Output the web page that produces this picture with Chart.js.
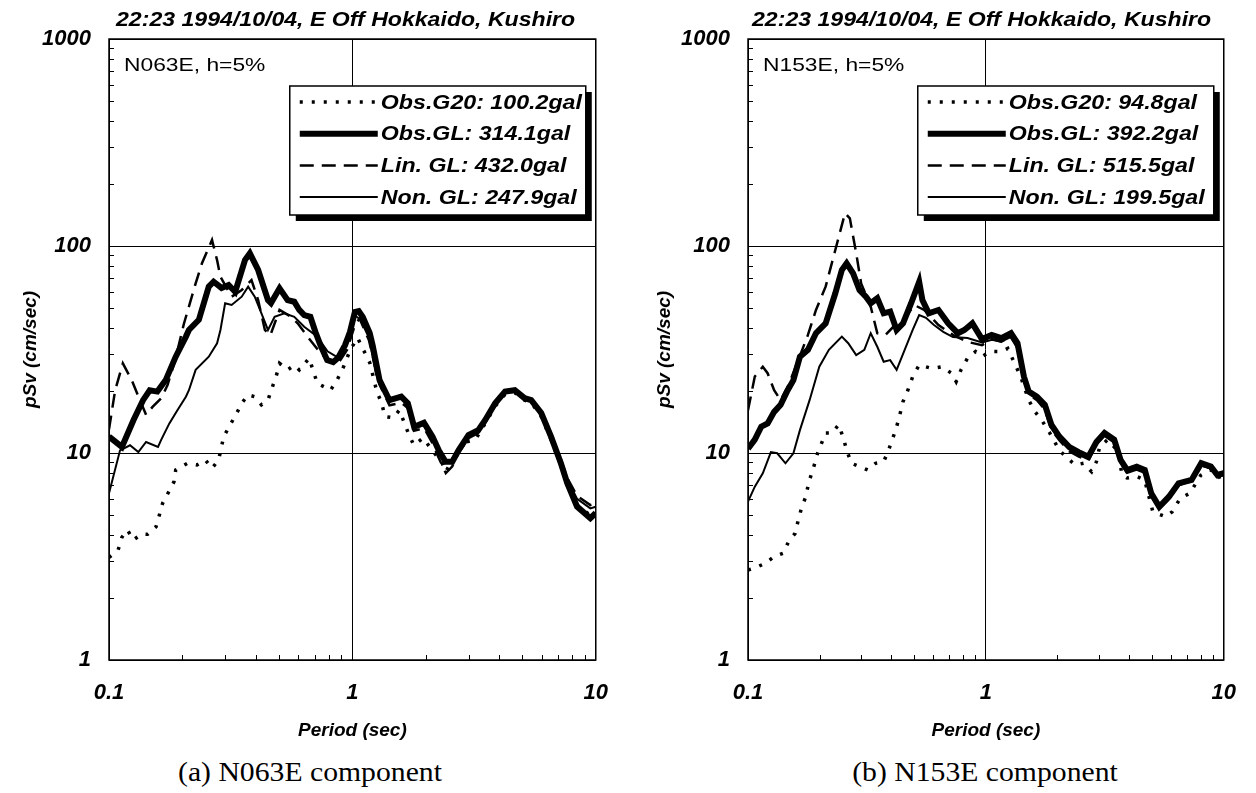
<!DOCTYPE html>
<html>
<head>
<meta charset="utf-8">
<title>pSv spectra, Kushiro 1994/10/04</title>
<script src="https://cdn.jsdelivr.net/npm/chart.js@4.4.1/dist/chart.umd.min.js"></script>
<style>
  body { margin: 0; background: #fff; width: 1256px; height: 793px; position: relative; overflow: hidden; }
  canvas { position: absolute; top: 0; }
  #chartA { left: 0; }
  #chartB { left: 628px; }
  .head { position: absolute; top: 7px; white-space: nowrap; font: italic bold 21px "Liberation Sans", Arial, sans-serif; color: #000; transform: scaleX(1.1); transform-origin: 0 0; }
  .caption { position: absolute; top: 757px; width: 628px; text-align: center; font: 27px "Liberation Serif", "Times New Roman", serif; color: #000; transform: scaleX(1.1); }
</style>
</head>
<body>
<canvas id="chartA" width="628" height="745"></canvas>
<canvas id="chartB" width="628" height="745"></canvas>
<div class="head" style="left:116px">22:23 1994/10/04, E Off Hokkaido, Kushiro</div>
<div class="head" style="left:752px">22:23 1994/10/04, E Off Hokkaido, Kushiro</div>
<div class="caption" style="left:-4px">(a) N063E component</div>
<div class="caption" style="left:671px">(b) N153E component</div>
<script>
// axis ticks
const periodTicks = [0.1, 1, 10];
const pSvTicks = [1, 10, 100, 1000];
const minorSteps = [2, 3, 4, 5, 6, 7, 8, 9];

// (a) N063E - period (sec) / pSv (cm/sec)
const aG20T = [0.1, 0.109, 0.113, 0.119, 0.126, 0.136, 0.144, 0.156, 0.161, 0.166, 0.176, 0.185, 0.188, 0.210, 0.230, 0.249, 0.265, 0.282, 0.296, 0.315, 0.335, 0.351, 0.373, 0.397, 0.423, 0.450, 0.464, 0.486, 0.502, 0.542, 0.577, 0.605, 0.664, 0.718, 0.764, 0.813, 0.865, 0.920, 0.980, 1.05, 1.18, 1.26, 1.32, 1.36, 1.47, 1.56, 1.71, 1.79, 1.95, 2.34, 2.42, 2.57, 2.83, 3.2, 3.5, 3.86, 4.24, 4.65, 5.1, 5.43, 5.97, 6.55, 7.19, 7.63, 8.38, 9.5, 10];
const aG20 = [3.13, 3.40, 3.92, 4.25, 3.80, 4.06, 4.05, 4.40, 5.01, 5.71, 6.5, 7.27, 8.28, 8.92, 8.75, 9.25, 8.44, 9.25, 12.0, 13.7, 15.6, 17.4, 19.1, 18.7, 17.1, 18.0, 20.1, 23.4, 27.1, 25.2, 26.6, 25.2, 28.7, 21.7, 20.9, 20.1, 22.5, 26.1, 31.5, 36, 27.2, 19.8, 17.4, 15.0, 14.8, 16.1, 12.2, 10.9, 11.8, 8.92, 8.12, 9.25, 11.2, 11.6, 13.8, 16.8, 19.2, 19.5, 18.0, 17.5, 15.0, 11.6, 8.7, 7.0, 5.6, 5.0, 5.0];

const aObsT = [0.1, 0.113, 0.126, 0.138, 0.147, 0.158, 0.171, 0.188, 0.207, 0.213, 0.234, 0.257, 0.269, 0.29, 0.31, 0.33, 0.362, 0.379, 0.41, 0.45, 0.463, 0.502, 0.542, 0.577, 0.605, 0.634, 0.672, 0.705, 0.739, 0.788, 0.834, 0.873, 0.933, 0.977, 1.024, 1.062, 1.103, 1.178, 1.211, 1.293, 1.419, 1.588, 1.69, 1.793, 1.968, 2.134, 2.264, 2.415, 2.574, 2.73, 3.0, 3.29, 3.51, 3.86, 4.24, 4.65, 5.1, 5.43, 5.97, 6.55, 7.19, 7.63, 8.38, 9.5, 10];
const aObs = [12.0, 10.7, 14.4, 18.0, 20.1, 19.8, 22.5, 29.2, 36.5, 39.3, 44, 63.6, 67.2, 62.7, 64.8, 60.1, 85.5, 92.2, 76.6, 54.8, 53, 62.5, 54.8, 53.8, 49.1, 46.4, 45.5, 38.4, 33.2, 28.1, 27.5, 28.8, 33.2, 38.4, 48, 48.5, 45.4, 38, 33.2, 22.5, 18.0, 18.7, 17.4, 13.4, 14.0, 12.0, 10.3, 9.08, 9.08, 10.3, 12.2, 12.9, 14.4, 17.4, 19.8, 20.1, 18.4, 18.0, 15.6, 12.0, 8.92, 7.16, 5.51, 4.84, 5.13];

const aLinT = [0.1, 0.106, 0.114, 0.124, 0.134, 0.142, 0.151, 0.164, 0.174, 0.187, 0.203, 0.227, 0.241, 0.265, 0.278, 0.287, 0.319, 0.351, 0.385, 0.41, 0.437, 0.46, 0.502, 0.559, 0.596, 0.654, 0.752, 0.865, 0.95, 1.024, 1.07, 1.17, 1.29, 1.42, 1.59, 1.69, 1.79, 1.97, 2.13, 2.26, 2.42, 2.57, 2.73, 3.0, 3.29, 3.51, 3.86, 4.24, 4.65, 5.1, 5.43, 5.97, 6.55, 7.19, 7.63, 8.38, 9.5, 10];
const aLin = [13.0, 20.1, 27.1, 22.5, 18.0, 15.3, 16.7, 18.4, 21.3, 28.1, 42, 66, 82.5, 107, 85.5, 71, 56.9, 61.3, 68.5, 54.8, 39.3, 37, 49.1, 45.6, 42.3, 36.5, 29.7, 26.6, 31.5, 41.4, 44.7, 35, 21.5, 17.0, 17.5, 16.5, 12.8, 13.2, 11.2, 9.5, 8.0, 8.6, 10.0, 11.8, 12.5, 14.0, 17.0, 19.5, 19.8, 18.3, 17.8, 15.5, 12.3, 9.3, 7.6, 6.2, 5.6, 5.7];

const aNonT = [0.1, 0.111, 0.122, 0.132, 0.142, 0.159, 0.164, 0.177, 0.191, 0.207, 0.213, 0.227, 0.257, 0.278, 0.287, 0.300, 0.319, 0.351, 0.373, 0.397, 0.423, 0.45, 0.479, 0.526, 0.577, 0.634, 0.718, 0.79, 0.87, 0.95, 1.03, 1.08, 1.17, 1.25, 1.4, 1.6, 1.7, 1.8, 1.97, 2.13, 2.27, 2.42, 2.57, 2.73, 3.0, 3.29, 3.51, 3.86, 4.24, 4.65, 5.1, 5.43, 5.97, 6.55, 7.19, 7.63, 8.38, 9.5, 10];
const aNon = [6.39, 10.3, 10.9, 10.1, 11.3, 10.7, 11.6, 13.9, 16.1, 18.7, 20.1, 25.2, 29.2, 33.9, 39.3, 52.9, 51.9, 56.9, 63.6, 56.9, 47.3, 39.3, 45.5, 47.3, 45.5, 40.7, 36.5, 31, 29, 35, 46, 44, 36, 24, 18.5, 18.2, 16.8, 13.2, 13.6, 11.6, 10.0, 9.0, 9.2, 10.4, 12.2, 12.9, 14.5, 17.6, 20.0, 20.2, 18.6, 18.2, 15.8, 12.3, 9.2, 7.5, 6.0, 5.4, 5.5];

// (b) N153E
const bG20T = [0.1, 0.1085, 0.1191, 0.1288, 0.1405, 0.1481, 0.1578, 0.1627, 0.1678, 0.1749, 0.1804, 0.1873, 0.1962, 0.2023, 0.212, 0.2258, 0.2404, 0.2519, 0.2598, 0.2722, 0.2943, 0.3184, 0.344, 0.3718, 0.3896, 0.4083, 0.4215, 0.4348, 0.4484, 0.4699, 0.4924, 0.5243, 0.5937, 0.652, 0.716, 0.75, 0.786, 0.837, 0.905, 0.963, 1.041, 1.161, 1.236, 1.4, 1.514, 1.611, 1.717, 1.855, 2.037, 2.201, 2.38, 2.574, 2.782, 2.915, 3.007, 3.25, 3.57, 3.74, 3.923, 4.31, 4.65, 5.035, 5.7, 6.07, 6.56, 7.2, 8.0, 8.8, 9.4, 10];
const bG20 = [2.72, 2.80, 2.95, 3.16, 3.28, 3.73, 4.09, 4.75, 5.41, 6.15, 7.27, 8.28, 9.97, 10.9, 12.5, 12.5, 13.7, 11.8, 10.3, 8.92, 8.59, 8.28, 8.92, 9.08, 10.3, 12.0, 13.4, 15.3, 17.7, 20.1, 23.4, 26.6, 25.6, 26.1, 24.3, 22.1, 25.2, 28.7, 30.9, 29.2, 30.9, 30.9, 32.0, 23.4, 18.0, 15.8, 14.4, 12.5, 10.3, 9.43, 8.75, 8.92, 8.12, 9.08, 10.7, 11.6, 10.3, 7.83, 7.57, 7.7, 7.4, 5.2, 4.92, 5.2, 6.04, 6.39, 7.8, 8.3, 7.6, 7.8];

const bObsT = [0.1, 0.1068, 0.1137, 0.1209, 0.1288, 0.1371, 0.1458, 0.1552, 0.1653, 0.1786, 0.1931, 0.212, 0.2328, 0.248, 0.2598, 0.2766, 0.2943, 0.313, 0.328, 0.3496, 0.3718, 0.396, 0.4215, 0.4484, 0.485, 0.5243, 0.541, 0.5755, 0.632, 0.694, 0.762, 0.812, 0.8774, 0.963, 1.058, 1.161, 1.275, 1.358, 1.445, 1.514, 1.638, 1.77, 1.885, 2.037, 2.238, 2.455, 2.698, 2.915, 3.153, 3.463, 3.684, 3.923, 4.306, 4.656, 4.955, 5.357, 5.883, 6.457, 7.32, 8.04, 8.83, 9.4, 10];
const bObs = [10.5, 11.6, 13.4, 13.9, 15.8, 17.1, 19.8, 22.5, 29.2, 31.5, 37.9, 42.3, 59.1, 76.6, 82.5, 73.8, 61.3, 56.9, 52.9, 55.9, 47.3, 48.2, 39.3, 42.3, 52.9, 67.2, 54.8, 47.3, 49.1, 42.3, 37.9, 39.3, 42.3, 35.5, 37.2, 35.9, 37.9, 33.9, 23.4, 19.8, 18.7, 17.1, 13.7, 12.0, 10.7, 10.1, 9.6, 11.3, 12.5, 11.6, 9.25, 8.28, 8.59, 8.28, 6.39, 5.50, 6.15, 7.14, 7.41, 8.92, 8.59, 7.83, 8.0];

const bLinT = [0.1, 0.1068, 0.1154, 0.1209, 0.1288, 0.1371, 0.148, 0.1627, 0.1786, 0.1931, 0.212, 0.2328, 0.2557, 0.268, 0.285, 0.299, 0.328, 0.3496, 0.378, 0.415, 0.4556, 0.5, 0.55, 0.632, 0.727, 0.837, 0.963, 1.06, 1.16, 1.27, 1.36, 1.45, 1.51, 1.64, 1.77, 1.88, 2.04, 2.24, 2.46, 2.7, 2.91, 3.15, 3.46, 3.68, 3.92, 4.3, 4.66, 4.96, 5.36, 5.88, 6.46, 7.32, 8.04, 8.83, 9.4, 10];
const bLin = [16.1, 23.4, 26.1, 24.3, 20.1, 18.0, 21.3, 28.1, 37.2, 49.1, 63.6, 95.6, 144, 136, 92.2, 66, 50.9, 37.9, 37.2, 41.5, 44.7, 51.9, 49.1, 41.5, 37.2, 34.4, 33.2, 35.5, 34.5, 36.5, 32, 22.5, 19.2, 18.0, 16.2, 13.0, 11.5, 10.2, 9.6, 9.2, 11.0, 12.2, 11.3, 9.0, 8.1, 8.4, 8.1, 6.2, 5.4, 6.0, 7.0, 7.3, 8.7, 8.5, 7.7, 7.9];

const bNonT = [0.1, 0.1068, 0.1154, 0.1248, 0.1327, 0.1437, 0.1552, 0.1653, 0.1815, 0.1994, 0.2188, 0.248, 0.2639, 0.285, 0.3083, 0.328, 0.3496, 0.3718, 0.396, 0.4215, 0.4556, 0.4924, 0.5243, 0.56, 0.6033, 0.662, 0.727, 0.837, 0.963, 1.06, 1.16, 1.27, 1.36, 1.45, 1.51, 1.64, 1.77, 1.88, 2.04, 2.24, 2.46, 2.7, 2.91, 3.15, 3.46, 3.68, 3.92, 4.3, 4.66, 4.96, 5.36, 5.88, 6.46, 7.32, 8.04, 8.83, 9.4, 10];
const bNon = [5.82, 6.88, 7.98, 10.1, 9.97, 8.92, 9.97, 12.9, 18.0, 26.1, 31.5, 36.5, 33.9, 29.7, 31.5, 37.9, 32.6, 27.6, 28.1, 25.2, 31.5, 39.3, 46.4, 45, 41.6, 38.5, 36.3, 35.9, 34.2, 35.2, 34.5, 36.3, 32.5, 22.0, 19.5, 18.2, 16.5, 13.2, 11.6, 10.4, 9.8, 9.3, 11.0, 12.1, 11.2, 9.0, 8.0, 8.3, 8.0, 6.2, 5.4, 6.0, 7.0, 7.3, 8.7, 8.4, 7.6, 7.8];

const labelsA = ['Obs.G20: 100.2gal', 'Obs.GL: 314.1gal', 'Lin. GL: 432.0gal', 'Non. GL: 247.9gal'];
const labelsB = ['Obs.G20: 94.8gal', 'Obs.GL: 392.2gal', 'Lin. GL: 515.5gal', 'Non. GL: 199.5gal'];

const SANS = '"Liberation Sans", Arial, sans-serif';
const tickFont = { family: SANS, size: 22, style: 'italic', weight: 'bold' };
const titleFont = { family: SANS, size: 19, style: 'italic', weight: 'bold' };

const pairs = (ts, vs) => ts.map((t, i) => ({ x: t, y: vs[i] }));

function minorValues(decades) {
  const out = [];
  decades.slice(0, -1).forEach(d => minorSteps.forEach(m => out.push(d * m)));
  return out;
}

// text drawn a little wide, like the rest of the lettering
function wideText(ctx, text, x, y, sx) {
  ctx.save();
  ctx.translate(x, y);
  ctx.scale(sx, 1);
  ctx.fillText(text, 0, 0);
  ctx.restore();
}

// frame, inner minor ticks, boxed legend and the h=5% note
const panelDecor = {
  id: 'panelDecor',
  beforeDatasetsDraw(chart) {
    const { ctx, chartArea: a, scales: { x, y } } = chart;
    ctx.save();
    ctx.strokeStyle = '#000';
    ctx.lineWidth = 1;
    ctx.beginPath();
    minorValues(periodTicks).forEach(v => {
      const px = Math.round(x.getPixelForValue(v)) + 0.5;
      ctx.moveTo(px, a.bottom);
      ctx.lineTo(px, a.bottom - 5);
    });
    minorValues(pSvTicks).forEach(v => {
      const py = Math.round(y.getPixelForValue(v)) + 0.5;
      ctx.moveTo(a.left, py);
      ctx.lineTo(a.left + 5, py);
    });
    ctx.stroke();
    ctx.lineWidth = 1.5;
    ctx.strokeRect(a.left, a.top, a.right - a.left, a.bottom - a.top);
    ctx.restore();
  },
  afterDatasetsDraw(chart, args, opts) {
    const { ctx, chartArea: a } = chart;
    ctx.save();
    ctx.fillStyle = '#000';
    ctx.font = '19px ' + SANS;
    ctx.textBaseline = 'middle';
    wideText(ctx, opts.note, a.left + 15, a.top + 27, 1.2);

    const bx = a.right - 306, by = a.top + 47, bw = 296, bh = 129;
    ctx.fillRect(bx + 6, by + 6, bw, bh);
    ctx.fillStyle = '#fff';
    ctx.fillRect(bx, by, bw, bh);
    ctx.strokeStyle = '#000';
    ctx.lineWidth = 1.5;
    ctx.strokeRect(bx, by, bw, bh);

    ctx.font = 'italic bold 20px ' + SANS;
    chart.data.datasets.forEach((ds, i) => {
      const ry = by + 16 + i * 31.7;
      ctx.beginPath();
      ctx.setLineDash(ds.borderDash || []);
      ctx.lineWidth = ds.borderWidth;
      ctx.moveTo(bx + 10, ry);
      ctx.lineTo(bx + 88, ry);
      ctx.stroke();
      ctx.setLineDash([]);
      ctx.fillStyle = '#000';
      wideText(ctx, ds.label, bx + 91, ry + 1, 1.16);
    });
    ctx.restore();
  }
};

function makePanel(id, labels, series, note, axisWidth, rightPad, yTitlePad) {
  const styles = [
    { borderWidth: 3.5, borderDash: [3, 9], order: 3 },
    { borderWidth: 6, borderDash: [], order: 0 },
    { borderWidth: 2.5, borderDash: [14, 8], order: 2 },
    { borderWidth: 2, borderDash: [], order: 1 }
  ];
  const datasets = series.map((s, i) => Object.assign({
    label: labels[i],
    data: pairs(s[0], s[1]),
    borderColor: '#000',
    backgroundColor: '#000',
    pointRadius: 0,
    tension: 0,
    fill: false
  }, styles[i]));

  return new Chart(document.getElementById(id), {
    type: 'line',
    data: { datasets },
    plugins: [panelDecor],
    options: {
      responsive: false,
      animation: false,
      layout: { padding: { top: 39, right: rightPad, bottom: 0, left: 0 } },
      plugins: {
        legend: { display: false },
        tooltip: { enabled: false },
        panelDecor: { note }
      },
      scales: {
        x: {
          type: 'logarithmic',
          min: 0.1,
          max: 10,
          afterBuildTicks: s => { s.ticks = periodTicks.map(v => ({ value: v })); },
          afterFit: s => { s.height = 85; },
          ticks: { callback: v => String(v), font: tickFont, color: '#000', padding: 20, maxRotation: 0, autoSkip: false },
          grid: { color: '#000', lineWidth: 1, drawTicks: false },
          border: { display: false },
          title: { display: true, text: 'Period (sec)', font: titleFont, color: '#000', padding: { top: 0, bottom: 3 } }
        },
        y: {
          type: 'logarithmic',
          min: 1,
          max: 1000,
          afterBuildTicks: s => { s.ticks = pSvTicks.map(v => ({ value: v })); },
          afterFit: s => { s.width = axisWidth; },
          ticks: { callback: v => String(v), font: tickFont, color: '#000', padding: 18, autoSkip: false },
          grid: { color: '#000', lineWidth: 1, drawTicks: false },
          border: { display: false },
          title: { display: true, text: 'pSv (cm/sec)', font: titleFont, color: '#000', padding: { top: yTitlePad, bottom: 0 } }
        }
      }
    }
  });
}

makePanel('chartA', labelsA,
  [[aG20T, aG20], [aObsT, aObs], [aLinT, aLin], [aNonT, aNon]],
  'N063E, h=5%', 109, 26, 19);
makePanel('chartB', labelsB,
  [[bG20T, bG20], [bObsT, bObs], [bLinT, bLin], [bNonT, bNon]],
  'N153E, h=5%', 120, 16, 25);
</script>
</body>
</html>
